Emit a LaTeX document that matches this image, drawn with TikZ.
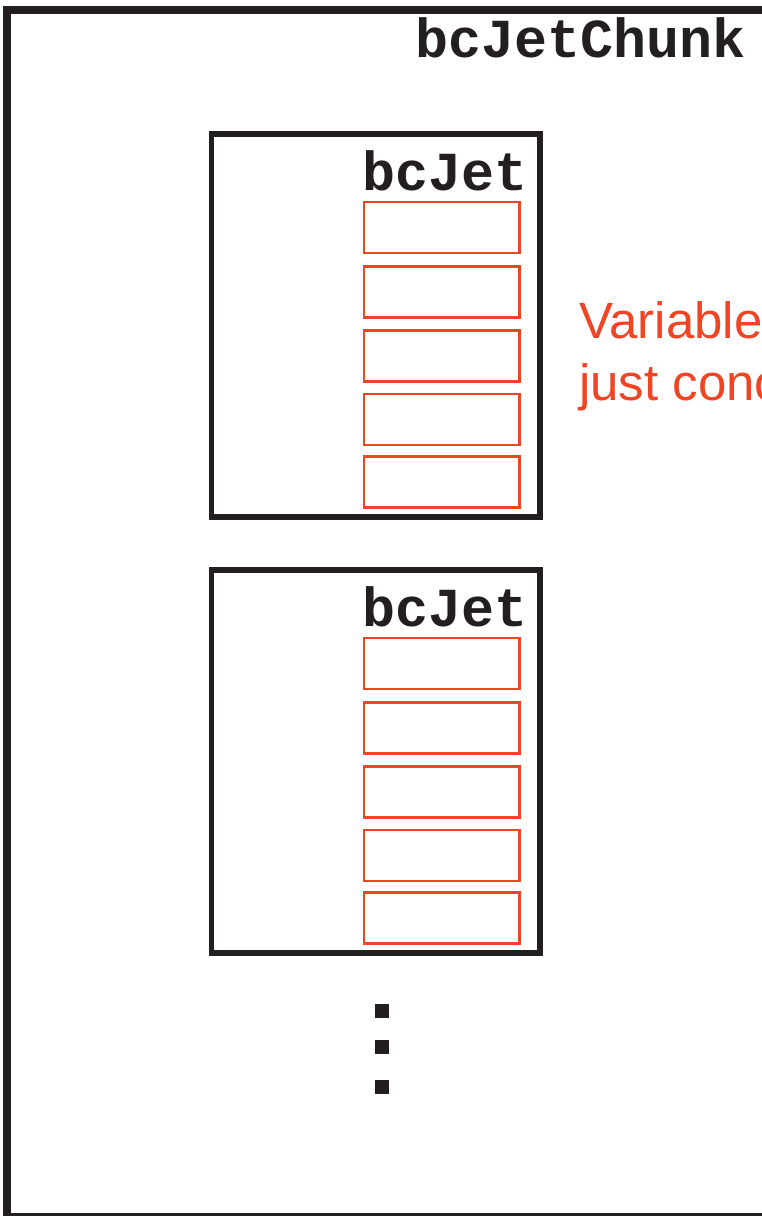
\documentclass[tikz,border=0pt]{standalone}
\usepackage{fontspec}
\newfontfamily\monofont{Liberation Mono}
\newfontfamily\sansfont{Liberation Sans}
\definecolor{ink}{HTML}{231F20}
\definecolor{redink}{HTML}{F04525}
\tikzset{
  frame/.style={draw=ink, line width=8pt},
  jetbox/.style={draw=ink, line width=5.5pt, rectangle, inner sep=0pt, minimum width=328.3pt, minimum height=383pt},
  redcell/.style={draw=redink, line width=2.7pt, rectangle, inner sep=0pt, minimum width=155.7pt, minimum height=51pt},
  codelabel/.style={anchor=base east, inner sep=0pt, text=ink, font=\monofont\bfseries\fontsize{55}{60}\selectfont},
  redlabel/.style={anchor=base west, inner sep=0pt, text=redink, font=\sansfont\fontsize{51}{60}\selectfont},
  dotsq/.style={fill=ink, draw=none, rectangle, inner sep=0pt, minimum size=14pt}
}
\begin{document}
\begin{tikzpicture}[x=1pt, y=-1pt]
\useasboundingbox (0,0) rectangle (762,1216);
\fill[white] (0,0) rectangle (762,1216);
\clip (0,0) rectangle (762,1216);
% outer chunk frame
\draw[frame] (7.3,9.5) rectangle (900,1217);
\node[codelabel] (chunklabel) at (746,57) {bcJetChunk};
% first bcJet
\node[jetbox] (jetA) at (375.85,325.5) {};
\node[codelabel] (jetAlabel) at (528,190) {bcJet};
\node[redcell] (a1) at (441.85,227.5) {};
\node[redcell] (a2) at (441.85,292) {};
\node[redcell] (a3) at (441.85,356) {};
\node[redcell] (a4) at (441.85,419.5) {};
\node[redcell] (a5) at (441.85,482) {};
% second bcJet
\node[jetbox] (jetB) at (375.85,761.5) {};
\node[codelabel] (jetBlabel) at (528,626) {bcJet};
\node[redcell] (b1) at (441.85,663.5) {};
\node[redcell] (b2) at (441.85,728) {};
\node[redcell] (b3) at (441.85,792) {};
\node[redcell] (b4) at (441.85,855.5) {};
\node[redcell] (b5) at (441.85,918) {};
% ellipsis dots
\node[dotsq] (d1) at (382,1011) {};
\node[dotsq] (d2) at (382,1047) {};
\node[dotsq] (d3) at (382,1087) {};
% red annotation
\node[redlabel] (note1) at (579,338) {Variable};
\node[redlabel] (note2) at (579,400) {just conc};
\end{tikzpicture}
\end{document}
